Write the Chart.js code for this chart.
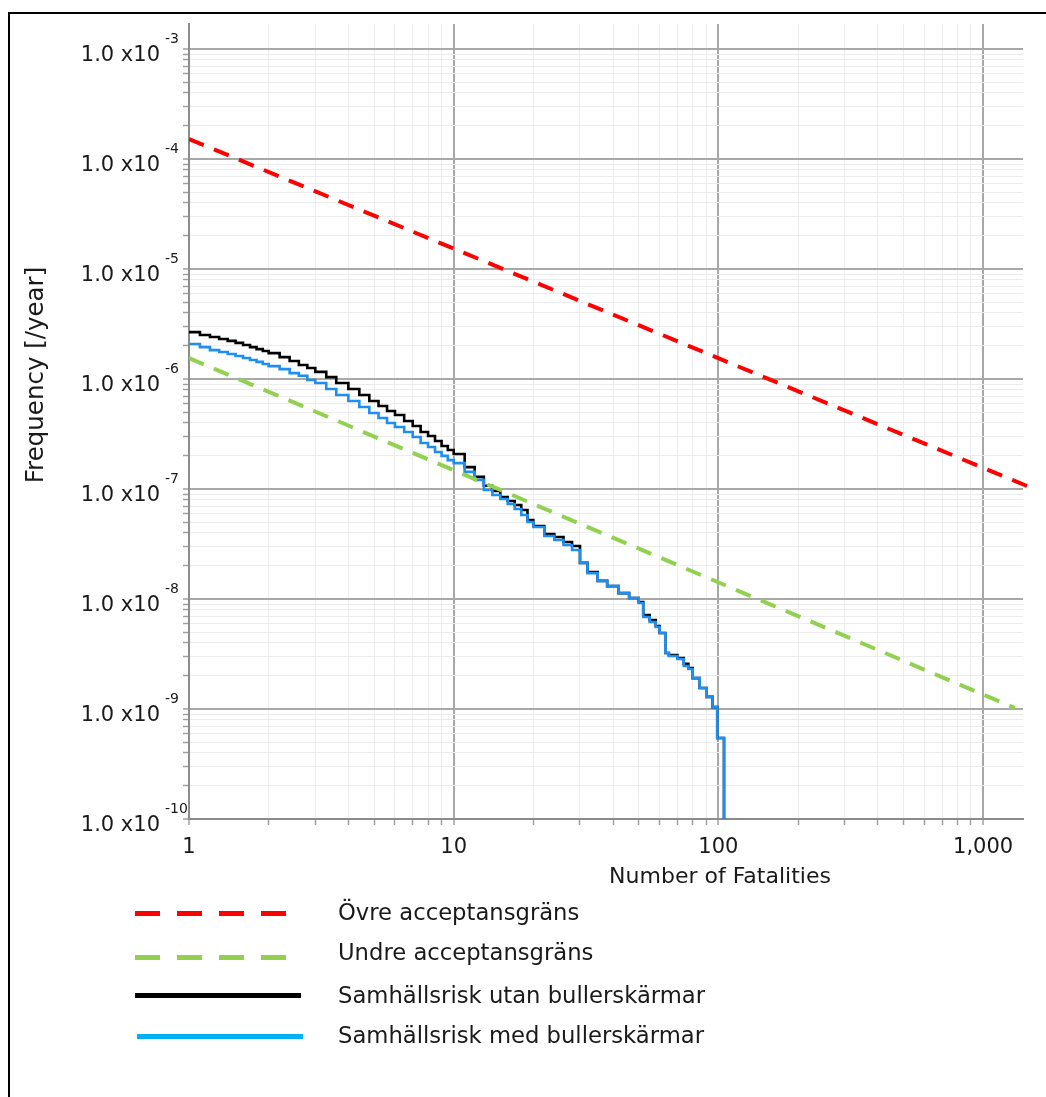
<!DOCTYPE html>
<html><head><meta charset="utf-8">
<script src="https://cdn.jsdelivr.net/npm/chart.js@4.4.1/dist/chart.umd.min.js"></script>
<style>
html,body{margin:0;padding:0;background:#fff;overflow:hidden}
#wrap{position:relative;width:1046px;height:1097px;overflow:hidden}
#c{position:absolute;left:0;top:0}
#frame{position:absolute;left:8px;top:12px;width:1100px;height:1200px;border-left:2px solid #000;border-top:2px solid #000;pointer-events:none}
.lg-line{position:absolute;height:5px}
.lg-text{position:absolute;left:338px;font-family:"DejaVu Sans",Verdana,sans-serif;font-size:22.7px;color:#1a1a1a;line-height:26px;white-space:nowrap}
</style></head><body>
<div id="wrap"><canvas id="c" width="1046" height="1097"></canvas><div id="frame"></div><div id="legend"></div></div>
<script>
// ---------- data ----------
const fatalities = [1,1.1,1.2,1.3,1.4,1.5,1.6,1.7,1.8,1.9,2,2.2,2.4,2.6,2.8,3,3.3,3.6,4,4.4,4.8,5.2,5.6,6,6.5,7,7.5,8,8.5,9,9.5,10,11,12,13,14,15,16,17,18,19,20,22,24,26,28,30,32,35,38,42,46,50,52,55,58,60,63,65,70,74,77,80,85,90,95,99,105];
const riskWithoutBarriers = [2.67e-6,2.51e-6,2.41e-6,2.31e-6,2.22e-6,2.13e-6,2.04e-6,1.95e-6,1.87e-6,1.80e-6,1.72e-6,1.58e-6,1.46e-6,1.34e-6,1.26e-6,1.16e-6,1.04e-6,9.2e-7,8.11e-7,7.15e-7,6.31e-7,5.68e-7,5.12e-7,4.71e-7,4.15e-7,3.74e-7,3.30e-7,3.03e-7,2.73e-7,2.46e-7,2.26e-7,2.08e-7,1.58e-7,1.29e-7,1.07e-7,9.59e-8,8.46e-8,7.78e-8,7.15e-8,6.44e-8,5.23e-8,4.61e-8,3.90e-8,3.66e-8,3.30e-8,3.03e-8,2.13e-8,1.76e-8,1.46e-8,1.31e-8,1.13e-8,1.02e-8,9.39e-9,7.15e-9,6.44e-9,5.68e-9,4.91e-9,3.23e-9,3.10e-9,2.91e-9,2.57e-9,2.36e-9,1.91e-9,1.55e-9,1.29e-9,1.04e-9,5.45e-10,1e-12];
const riskWithBarriers = [2.08e-6,1.95e-6,1.83e-6,1.76e-6,1.69e-6,1.62e-6,1.55e-6,1.49e-6,1.43e-6,1.37e-6,1.31e-6,1.23e-6,1.13e-6,1.07e-6,9.79e-7,9.20e-7,8.11e-7,7.15e-7,6.31e-7,5.57e-7,4.91e-7,4.42e-7,3.98e-7,3.66e-7,3.30e-7,2.97e-7,2.62e-7,2.41e-7,2.17e-7,2.00e-7,1.83e-7,1.72e-7,1.43e-7,1.21e-7,9.79e-8,8.82e-8,8.11e-8,7.30e-8,6.58e-8,5.80e-8,5.01e-8,4.51e-8,3.74e-8,3.44e-8,3.10e-8,2.79e-8,2.13e-8,1.72e-8,1.46e-8,1.31e-8,1.13e-8,1.02e-8,9.20e-9,6.86e-9,6.18e-9,5.57e-9,4.91e-9,3.23e-9,3.03e-9,2.85e-9,2.46e-9,2.31e-9,1.91e-9,1.55e-9,1.29e-9,1.04e-9,5.45e-10,1e-12];
const upperLimitN = [1, 1500];
const upperLimitF = [1.52e-4, 1.04e-7];
const lowerLimitN = [1, 1320];
const lowerLimitF = [1.55e-6, 1.02e-9];

const seriesNames = ['Övre acceptansgräns','Undre acceptansgräns','Samhällsrisk utan bullerskärmar','Samhällsrisk med bullerskärmar'];

// ---------- axes / ticks ----------
const xRange = [1, 1415];
const yRange = [1e-10, 1.688e-3];
const xDecades = [1, 10, 100, 1000];
const xTickLabels = ['1', '10', '100', '1,000'];
const yDecades = [1e-10, 1e-9, 1e-8, 1e-7, 1e-6, 1e-5, 1e-4, 1e-3];
const yTickExponents = ['-10', '-9', '-8', '-7', '-6', '-5', '-4', '-3'];
const yTickMantissa = '1.0 x10';
const minorSteps = [1, 2, 3, 4, 5, 6, 7, 8, 9];
const xTitle = 'Number of Fatalities';
const yTitle = 'Frequency [/year]';

const gridValues = (decades, max) => {
  const out = [];
  decades.forEach(d => minorSteps.forEach(m => { const v = +(d * m).toPrecision(6); if (v <= max) out.push(v); }));
  return out;
};
const xGrid = gridValues(xDecades, xRange[1]);
const yGrid = gridValues(yDecades, yRange[1]);
const isDecade = v => v != null && Math.abs(Math.log10(v) - Math.round(Math.log10(v))) < 1e-6;

const pts = (xs, ys) => xs.map((x, i) => ({x, y: ys[i]}));

const FONT = '"DejaVu Sans", Verdana, sans-serif';
const axisText = {
  id: 'axisText',
  afterDraw(chart) {
    const ctx = chart.ctx, xs = chart.scales.x, ys = chart.scales.y;
    ctx.save();
    ctx.fillStyle = '#1a1a1a';
    ctx.textBaseline = 'alphabetic';
    yDecades.forEach((v, i) => {
      const py = ys.getPixelForValue(v);
      ctx.font = '21px ' + FONT; ctx.textAlign = 'right';
      ctx.fillText(yTickMantissa, 160, py + 12);
      ctx.font = '14px ' + FONT; ctx.textAlign = 'left';
      ctx.fillText(yTickExponents[i], 165, py - 6);
    });
    ctx.font = '21px ' + FONT; ctx.textAlign = 'center';
    xDecades.forEach((v, i) => {
      ctx.fillText(xTickLabels[i], xs.getPixelForValue(v), 853);
    });
    ctx.font = '22px ' + FONT;
    ctx.fillText(xTitle, 720, 883);
    ctx.translate(37, 375); ctx.rotate(-Math.PI / 2);
    ctx.font = '24.5px ' + FONT; ctx.textBaseline = 'middle';
    ctx.fillText(yTitle, 0, 0);
    ctx.restore();
  }
};

const gridOpts = {
  color: c => isDecade(c.tick && c.tick.value) ? '#a8a8a8' : '#ececec',
  lineWidth: c => isDecade(c.tick && c.tick.value) ? 2 : 1,
  drawTicks: true, tickLength: 6, tickColor: '#a0a0a0', tickWidth: 1.5
};

new Chart(document.getElementById('c'), {
  type: 'line',
  data: {
    datasets: [
      {label: seriesNames[0], data: pts(upperLimitN, upperLimitF), borderColor: '#ff0000', borderWidth: 4, borderDash: [16, 11], pointRadius: 0, order: 0, clip: {left: 0, top: 0, right: 8, bottom: 0}},
      {label: seriesNames[1], data: pts(lowerLimitN, lowerLimitF), borderColor: '#92d050', borderWidth: 4, borderDash: [16, 11], pointRadius: 0, order: 1},
      {label: seriesNames[2], data: pts(fatalities, riskWithoutBarriers), borderColor: '#000000', borderWidth: 2.6, stepped: true, pointRadius: 0, order: 3},
      {label: seriesNames[3], data: pts(fatalities, riskWithBarriers), borderColor: '#1e8ff0', borderWidth: 2.6, stepped: true, pointRadius: 0, order: 2}
    ]
  },
  options: {
    responsive: false, animation: false, devicePixelRatio: 1,
    layout: {autoPadding: false, padding: {left: 0, top: 24, right: 23, bottom: 248}},
    plugins: {legend: {display: false}, tooltip: {enabled: false}},
    scales: {
      x: {
        type: 'logarithmic', min: xRange[0], max: xRange[1],
        afterBuildTicks: s => { s.ticks = xGrid.map(v => ({value: v})); },
        afterFit: s => { s.height = 30; },
        ticks: {display: false},
        grid: gridOpts,
        border: {display: true, color: '#8c8c8c', width: 2}
      },
      y: {
        type: 'logarithmic', min: yRange[0], max: yRange[1],
        afterBuildTicks: s => { s.ticks = yGrid.map(v => ({value: v})); },
        afterFit: s => { s.width = 189; },
        ticks: {display: false},
        grid: gridOpts,
        border: {display: true, color: '#8c8c8c', width: 2}
      }
    }
  },
  plugins: [axisText]
});

// ---------- legend (HTML) ----------
const legendColors = ['#ff0000', '#92d050', '#000000', '#00b0f0'];
const legendDashed = [true, true, false, false];
const legendLineTop = [911, 955, 993, 1034];
const legendTextTop = [899, 939, 982, 1022];
const lg = document.getElementById('legend');
seriesNames.forEach((name, i) => {
  const l = document.createElement('div');
  l.className = 'lg-line';
  l.style.top = legendLineTop[i] + 'px';
  if (legendDashed[i]) {
    l.style.left = '135px'; l.style.width = '151px';
    l.style.background = `repeating-linear-gradient(to right, ${legendColors[i]} 0 25px, transparent 25px 42px)`;
  } else {
    l.style.left = (i === 3 ? 137 : 135) + 'px'; l.style.width = '166px';
    l.style.background = legendColors[i];
  }
  lg.appendChild(l);
  const t = document.createElement('div');
  t.className = 'lg-text';
  t.style.top = legendTextTop[i] + 'px';
  t.textContent = name;
  lg.appendChild(t);
});
</script>
</body></html>
